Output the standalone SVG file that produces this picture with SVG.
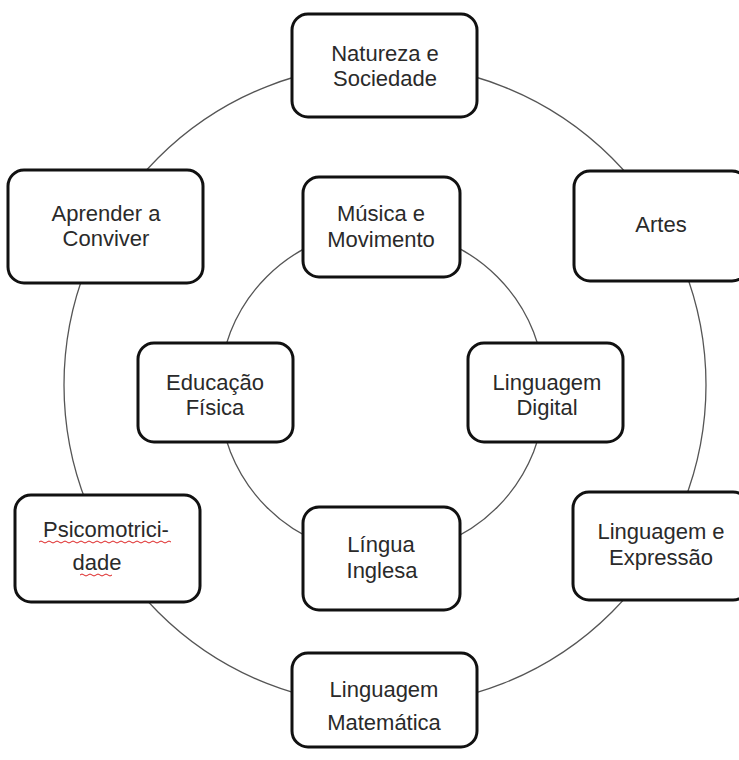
<svg xmlns="http://www.w3.org/2000/svg" width="739" height="760" viewBox="0 0 739 760">
<style>
.box{fill:#fff;stroke:#111;stroke-width:3}
.ring{fill:none;stroke:#555;stroke-width:1.3}
text{font-family:"Liberation Sans",Arial,sans-serif;font-size:22px;fill:#2a2a2a;text-anchor:middle}
.sq{fill:none;stroke:#d22;stroke-width:1}
</style>
<rect width="739" height="760" fill="#fff"/>
<g id="connectors">
<circle class="ring" cx="385" cy="385" r="321"/>
<circle class="ring" cx="382" cy="392" r="163"/>
</g>
<g id="natureza">
<rect class="box" x="292" y="14" width="185" height="103" rx="16"/>
<text x="385" y="61">Natureza e</text>
<text x="385" y="86">Sociedade</text>
</g>
<g id="aprender">
<rect class="box" x="8" y="170" width="195" height="113" rx="16"/>
<text x="106" y="221">Aprender a</text>
<text x="106" y="246">Conviver</text>
</g>
<g id="artes">
<rect class="box" x="574" y="171" width="174" height="110" rx="16"/>
<text x="661" y="232">Artes</text>
</g>
<g id="musica">
<rect class="box" x="303" y="177" width="157" height="100" rx="16"/>
<text x="381" y="221">Música e</text>
<text x="381" y="247">Movimento</text>
</g>
<g id="educacao">
<rect class="box" x="138" y="343" width="155" height="99" rx="16"/>
<text x="215" y="390">Educação</text>
<text x="215" y="415">Física</text>
</g>
<g id="digital">
<rect class="box" x="468" y="343" width="155" height="99" rx="16"/>
<text x="547" y="390">Linguagem</text>
<text x="547" y="415">Digital</text>
</g>
<g id="psico">
<rect class="box" x="15" y="495" width="185" height="107" rx="16"/>
<text x="106" y="537">Psicomotrici-</text>
<text x="97" y="570">dade</text>
<path class="sq" d="M39 542 q2 -2 4 0 t4 0 t4 0 t4 0 t4 0 t4 0 t4 0 t4 0 t4 0 t4 0 t4 0 t4 0 t4 0 t4 0 t4 0 t4 0 t4 0 t4 0 t4 0 t4 0 t4 0 t4 0 t4 0 t4 0 t4 0 t4 0 t4 0 t4 0 t4 0 t4 0 t4 0 t4 0 t4 0"/>
<path class="sq" d="M80 575 q2 -2 4 0 t4 0 t4 0 t4 0 t4 0 t4 0 t4 0 t4 0"/>
</g>
<g id="inglesa">
<rect class="box" x="303" y="507" width="157" height="103" rx="16"/>
<text x="381" y="552">Língua</text>
<text x="382" y="578">Inglesa</text>
</g>
<g id="expressao">
<rect class="box" x="573" y="492" width="176" height="108" rx="16"/>
<text x="661" y="539">Linguagem e</text>
<text x="661" y="565">Expressão</text>
</g>
<g id="matematica">
<rect class="box" x="292" y="653" width="185" height="94" rx="16"/>
<text x="384" y="697">Linguagem</text>
<text x="384" y="730">Matemática</text>
</g>
</svg>
